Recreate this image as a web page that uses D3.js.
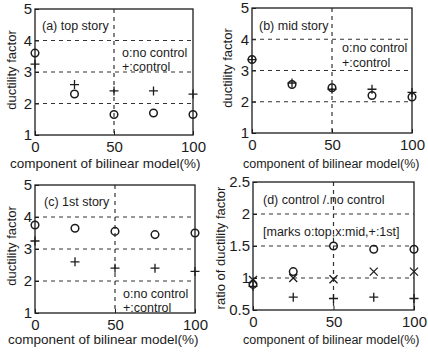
<!DOCTYPE html>
<html>
<head>
<meta charset="utf-8">
<script src="https://cdn.jsdelivr.net/npm/d3@7"></script>
<style>
  body { margin: 0; background: #fff; }
  svg text { font-family: "Liberation Sans", Arial, sans-serif; fill: #1c1c1c; }
</style>
</head>
<body>
<svg id="chart"></svg>
<script>
// x categories (component of bilinear model, %)
let xValues = [0, 25, 50, 75, 100]
let xTicks = [0, 50, 100]

// ductility factor
let topNoControl = [3.6, 2.3, 1.65, 1.7, 1.65]
let topControl = [3.25, 2.6, 2.4, 2.4, 2.3]
let midNoControl = [3.35, 2.55, 2.45, 2.2, 2.15]
let midControl = [3.35, 2.6, 2.4, 2.4, 2.3]
let firstNoControl = [3.75, 3.65, 3.55, 3.45, 3.5]
let firstControl = [3.25, 2.6, 2.4, 2.4, 2.3]

// ratio control / no control
let ratioTop = [0.9, 1.1, 1.5, 1.45, 1.45]
let ratioMid = [0.97, 1.0, 0.98, 1.1, 1.1]
let ratioFirst = [0.87, 0.7, 0.68, 0.7, 0.68]

let ductTicks = [1, 2, 3, 4, 5]
let ratioTicks = [0.5, 1, 1.5, 2, 2.5]

let width = 428
let height = 352
let ink = '#1c1c1c'

let svg = d3.select('#chart')
svg.attr('width', width).attr('height', height)

// draws one sub plot
let drawPanel = (p) => {
    let xScale = d3.scaleLinear().domain([0, 100]).range([p.left, p.right])
    let yScale = d3.scaleLinear().domain(p.domain).range([p.bottom, p.top])
    let g = svg.append('g')

    // dashed grid at the inner ticks
    g.selectAll('.hgrid')
        .data(p.yTicks.slice(1, -1))
        .enter()
        .append('line')
        .attr('x1', p.left).attr('x2', p.right)
        .attr('y1', (d) => yScale(d)).attr('y2', (d) => yScale(d))
        .attr('stroke', '#333').attr('stroke-width', 1.2)
        .attr('stroke-dasharray', '4,4')
    g.append('line')
        .attr('x1', xScale(50)).attr('x2', xScale(50))
        .attr('y1', p.top).attr('y2', p.bottom)
        .attr('stroke', '#333').attr('stroke-width', 1.2)
        .attr('stroke-dasharray', '4,4')

    // frame
    g.append('rect')
        .attr('x', p.left).attr('y', p.top)
        .attr('width', p.right - p.left).attr('height', p.bottom - p.top)
        .attr('fill', 'none').attr('stroke', ink).attr('stroke-width', 1.3)

    // axes
    let yAxis = d3.axisLeft(yScale).tickValues(p.yTicks).tickFormat((d) => String(d)).tickSize(-4).tickPadding(3)
    let xAxis = d3.axisBottom(xScale).tickValues(xTicks).tickFormat((d) => String(d)).tickSize(-4).tickPadding(6)
    let ya = g.append('g').attr('transform', 'translate(' + p.left + ',0)').call(yAxis)
    let xa = g.append('g').attr('transform', 'translate(0,' + p.bottom + ')').call(xAxis)
    for (let a of [ya, xa]) {
        a.select('.domain').remove()
        a.selectAll('line').attr('stroke', ink)
        a.selectAll('text').style('font-size', '15px').attr('fill', ink)
    }

    // markers
    for (let s of p.series) {
        let pts = g.selectAll(null)
            .data(s.values.map((v, i) => [xValues[i], v]))
            .enter()
        if (s.mark === 'o') {
            pts.append('circle')
                .attr('cx', (d) => xScale(d[0])).attr('cy', (d) => yScale(d[1]))
                .attr('r', 3.8).attr('fill', 'none')
                .attr('stroke', ink).attr('stroke-width', 1.5)
        } else if (s.mark === '+') {
            pts.append('path')
                .attr('d', (d) => {
                    let x = xScale(d[0]), y = yScale(d[1])
                    return 'M' + (x - 4.5) + ',' + y + 'H' + (x + 4.5) + 'M' + x + ',' + (y - 4.5) + 'V' + (y + 4.5)
                })
                .attr('stroke', ink).attr('stroke-width', 1.3)
        } else {
            pts.append('path')
                .attr('d', (d) => {
                    let x = xScale(d[0]), y = yScale(d[1])
                    return 'M' + (x - 4) + ',' + (y - 4) + 'L' + (x + 4) + ',' + (y + 4) + 'M' + (x - 4) + ',' + (y + 4) + 'L' + (x + 4) + ',' + (y - 4)
                })
                .attr('stroke', ink).attr('stroke-width', 1.3)
        }
    }

    // texts
    for (let t of p.texts) {
        g.append('text').attr('x', t[0]).attr('y', t[1])
            .style('font-size', '12.5px').text(t[2])
    }
    g.append('text')
        .attr('x', p.xLabel[0]).attr('y', p.xLabel[1])
        .style('font-size', p.xLabel[2])
        .text('component of bilinear model(%)')
    g.append('text')
        .attr('transform', 'translate(' + p.yLabel[0] + ',' + p.yLabel[1] + ') rotate(-90)')
        .attr('text-anchor', 'middle')
        .style('font-size', '13px')
        .text(p.yLabel[2])
}

let panels = [
    { left: 35, right: 193, top: 9, bottom: 135, domain: [1, 5], yTicks: ductTicks,
      series: [{ mark: 'o', values: topNoControl }, { mark: '+', values: topControl }],
      texts: [[42, 30, '(a) top story'], [122, 57, 'o:no control'], [122, 71, '+:control']],
      xLabel: [10, 168, '13.5px'], yLabel: [16, 70, 'ductility factor'] },
    { left: 252, right: 412, top: 8, bottom: 133, domain: [1, 5], yTicks: ductTicks,
      series: [{ mark: 'o', values: midNoControl }, { mark: '+', values: midControl }],
      texts: [[259, 30, '(b) mid story'], [342, 52, 'o:no control'], [342, 67, '+:control']],
      xLabel: [243, 168, '12.5px'], yLabel: [232, 68, 'ductility factor'] },
    { left: 35, right: 195, top: 185, bottom: 313, domain: [1, 5], yTicks: ductTicks,
      series: [{ mark: 'o', values: firstNoControl }, { mark: '+', values: firstControl }],
      texts: [[44, 206, '(c) 1st story'], [123, 298, 'o:no control'], [123, 312, '+:control']],
      xLabel: [8, 344, '13.5px'], yLabel: [16, 246, 'ductility factor'] },
    { left: 253, right: 414, top: 182, bottom: 310, domain: [0.5, 2.5], yTicks: ratioTicks,
      series: [{ mark: 'o', values: ratioTop }, { mark: 'x', values: ratioMid }, { mark: '+', values: ratioFirst }],
      texts: [[263, 204, '(d) control /.no control'], [263, 236, '[marks o:top,x:mid,+:1st]']],
      xLabel: [243, 344, '12.5px'], yLabel: [225, 248, 'ratio of ductility factor'] }
]

panels.forEach(drawPanel)
</script>
</body>
</html>
